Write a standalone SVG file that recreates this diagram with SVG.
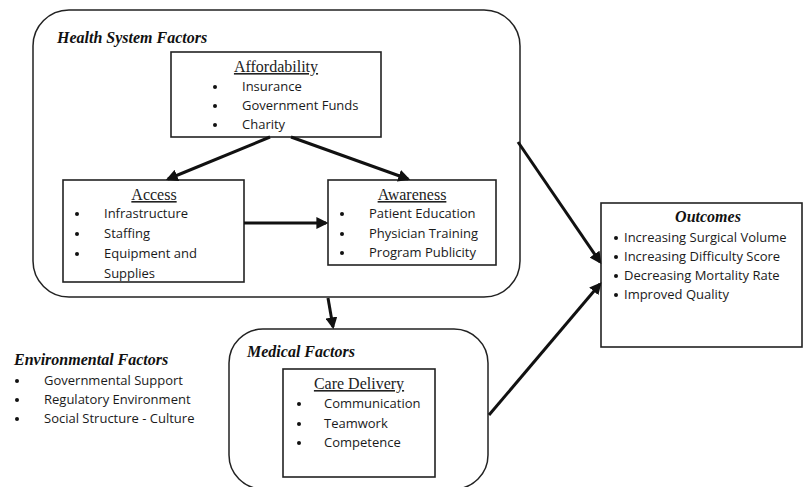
<svg xmlns="http://www.w3.org/2000/svg" width="803" height="487" viewBox="0 0 803 487">
<style>
.bg{fill:#fff}
.group{fill:#fff;stroke:#222;stroke-width:1.5}
.box{fill:#fff;stroke:#222;stroke-width:1.6}
.head{font-family:"Liberation Serif",serif;font-weight:bold;font-style:italic;font-size:16px;fill:#111}
.title{font-family:"Liberation Serif",serif;font-size:16px;fill:#222;text-decoration:underline;text-anchor:middle}
.item{font-family:"Open Sans","Liberation Sans",sans-serif;font-size:13px;fill:#1a1a1a}
.bul{fill:#111}
.conn{stroke:#111;stroke-width:3;fill:none;marker-end:url(#ah)}
</style>
<defs>
<marker id="ah" viewBox="0 0 10 10" refX="8" refY="5" markerWidth="4" markerHeight="4" orient="auto" markerUnits="strokeWidth">
<path d="M0,0 L10,5 L0,10 z" fill="#111"/>
</marker>
<clipPath id="accClip"><rect x="63" y="180" width="181" height="101"/></clipPath>
</defs>
<rect class="bg" x="0" y="0" width="803" height="487"/>

<g id="health-system">
<rect class="group" x="33" y="10" width="487" height="287" rx="36" ry="36"/>
<text class="head" x="57" y="43">Health System Factors</text>
</g>

<g id="affordability">
<rect class="box" x="171" y="52" width="210" height="85"/>
<text class="title" x="276" y="72">Affordability</text>
<g class="bul">
<circle cx="215" cy="87" r="2"/><circle cx="215" cy="106" r="2"/><circle cx="215" cy="125" r="2"/>
</g>
<g class="item">
<text x="242" y="91">Insurance</text>
<text x="242" y="110">Government Funds</text>
<text x="242" y="129">Charity</text>
</g>
</g>

<g id="access">
<rect class="box" x="63" y="180" width="181" height="102"/>
<text class="title" x="154" y="200">Access</text>
<g class="bul">
<circle cx="77" cy="214" r="2"/><circle cx="77" cy="234" r="2"/><circle cx="77" cy="254" r="2"/>
</g>
<g class="item" clip-path="url(#accClip)">
<text x="104" y="218">Infrastructure</text>
<text x="104" y="238">Staffing</text>
<text x="104" y="258">Equipment  and</text>
<text x="104" y="278">Supplies</text>
</g>
</g>

<g id="awareness">
<rect class="box" x="328" y="180" width="168" height="85"/>
<text class="title" x="412" y="200">Awareness</text>
<g class="bul">
<circle cx="342" cy="214" r="2"/><circle cx="342" cy="234" r="2"/><circle cx="342" cy="253" r="2"/>
</g>
<g class="item">
<text x="369" y="218">Patient Education</text>
<text x="369" y="238">Physician Training</text>
<text x="369" y="257">Program Publicity</text>
</g>
</g>

<g id="medical">
<rect class="group" x="229" y="329" width="259" height="160" rx="34" ry="34"/>
<text class="head" x="247" y="357">Medical Factors</text>
</g>

<g id="care-delivery">
<rect class="box" x="283" y="369" width="152" height="108"/>
<text class="title" x="359" y="389">Care Delivery</text>
<g class="bul">
<circle cx="299" cy="404" r="2"/><circle cx="299" cy="424" r="2"/><circle cx="299" cy="443" r="2"/>
</g>
<g class="item">
<text x="324" y="408">Communication</text>
<text x="324" y="428">Teamwork</text>
<text x="324" y="447">Competence</text>
</g>
</g>

<g id="environmental">
<text class="head" x="14" y="365">Environmental Factors</text>
<g class="bul">
<circle cx="17" cy="381" r="2"/><circle cx="17" cy="400" r="2"/><circle cx="17" cy="419" r="2"/>
</g>
<g class="item">
<text x="44" y="385">Governmental  Support</text>
<text x="44" y="404">Regulatory Environment</text>
<text x="44" y="423">Social Structure - Culture</text>
</g>
</g>

<g id="outcomes">
<rect class="box" x="601" y="203" width="201" height="144"/>
<text class="head" x="708" y="222" text-anchor="middle">Outcomes</text>
<g class="bul">
<circle cx="616" cy="238" r="2"/><circle cx="616" cy="257" r="2"/><circle cx="616" cy="276" r="2"/><circle cx="616" cy="295" r="2"/>
</g>
<g class="item">
<text x="624" y="242">Increasing Surgical Volume</text>
<text x="624" y="261">Increasing Difficulty Score</text>
<text x="624" y="280">Decreasing Mortality Rate</text>
<text x="624" y="299">Improved Quality</text>
</g>
</g>

<g id="connectors">
<line class="conn" x1="270" y1="137" x2="168" y2="179"/>
<line class="conn" x1="291" y1="137" x2="408" y2="179"/>
<line class="conn" x1="244" y1="223" x2="326" y2="223"/>
<line class="conn" x1="518" y1="142" x2="600" y2="262"/>
<line class="conn" x1="489" y1="415" x2="600" y2="284"/>
<line class="conn" x1="328" y1="298" x2="333" y2="327"/>
</g>
</svg>
